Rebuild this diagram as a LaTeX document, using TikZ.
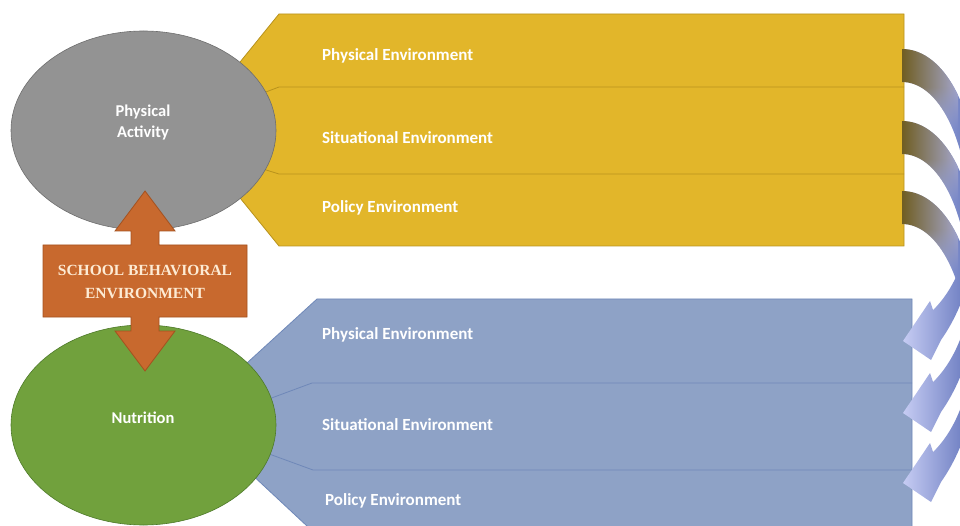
\documentclass[tikz,border=0pt]{standalone}
\usepackage{fontspec}
\setmainfont{Carlito}
\newfontfamily\serifb{Liberation Serif}
\usetikzlibrary{fadings,shapes.geometric}
\definecolor{yel}{HTML}{E2B62A}
\definecolor{yelb}{HTML}{B8921C}
\definecolor{blu}{HTML}{8EA2C6}
\definecolor{blub}{HTML}{6F88B8}
\definecolor{gry}{HTML}{939393}
\definecolor{gryb}{HTML}{6E6E6E}
\definecolor{grn}{HTML}{71A13D}
\definecolor{grnb}{HTML}{4E7A2A}
\definecolor{org}{HTML}{C8692E}
\definecolor{orgb}{HTML}{A4511F}
\definecolor{cream}{HTML}{FDEBD4}
\definecolor{arlight}{HTML}{CDD2F7}
\definecolor{ardark}{HTML}{7282C4}
\definecolor{arolive}{HTML}{6E5B1C}
\definecolor{armid}{HTML}{A3A6CC}
\tikzfading[name=fadedown, top color=transparent!0, bottom color=transparent!100, middle color=transparent!0]
\tikzset{
  envlabel/.style={anchor=west, text=white, font=\fontsize{17}{20}\selectfont\bfseries, inner sep=0pt},
  circlabel/.style={text=white, font=\fontsize{16.5}{21}\selectfont\bfseries, align=center, inner sep=0pt},
  divline/.style={line width=0.8pt},
}
\newcommand\curvarrowpath[1]{(902,#1) .. controls (940,#1) and (972,#1+50) .. (978,#1+130) .. controls (983,#1+190) and (970,#1+250) .. (941,#1+291) -- (931,#1+311) -- (903,#1+292) -- (930,#1+252) -- (933,#1+261) .. controls (950,#1+245) and (970,#1+210) .. (970,#1+165) .. controls (965,#1+80) and (935,#1+33) .. (902,#1+33) -- cycle}
\begin{document}
\begin{tikzpicture}[x=1pt,y=-1pt]
\useasboundingbox (0,0) rectangle (960,526);
\clip (0,0) rectangle (960,526);
% yellow block
\path[fill=yel, draw=yelb, line width=0.8pt] (279,14) -- (904,14) -- (904,246) -- (279,246) -- (185,130) -- cycle;
\draw[yelb, divline] (250,98) -- (279,87) -- (904,87);
\draw[yelb, divline] (250,165) -- (279,174) -- (904,174);
% blue block
\path[fill=blu, draw=blub, line width=0.8pt] (317,299) -- (912,299) -- (912,540) -- (322,540) -- (189,416) -- cycle;
\draw[blub, divline] (250,406) -- (312,383) -- (912,383);
\draw[blub, divline] (250,447) -- (313,470) -- (912,470);
% ellipses
\node[draw=gryb, fill=gry, ellipse, minimum width=265pt, minimum height=199pt, inner sep=0pt, line width=0.6pt] (pa) at (143.5,130.5) {};
\node[draw=grnb, fill=grn, ellipse, minimum width=265pt, minimum height=200pt, inner sep=0pt, line width=0.6pt] (nu) at (143.5,425) {};
\node[circlabel] (palab) at (143,123) {Physical\\Activity};
\node[circlabel] (nulab) at (143,417.5) {Nutrition};
% orange double arrow
\path[fill=org, draw=orgb, line width=0.8pt] (145,191) -- (175,231) -- (159,231) -- (159,245) -- (247,245) -- (247,317) -- (159,317) -- (159,331) -- (175,331) -- (145,371) -- (115,331) -- (131,331) -- (131,317) -- (43,317) -- (43,245) -- (131,245) -- (131,231) -- (115,231) -- cycle;
\node[text=cream, font=\serifb\fontsize{15.5}{23}\selectfont\bfseries, align=center, inner sep=0pt] (sbe) at (145,281.5) {SCHOOL BEHAVIORAL\\ENVIRONMENT};
% labels
\node[envlabel] (y1) at (322,56) {Physical Environment};
\node[envlabel] (y2) at (322,138) {Situational Environment};
\node[envlabel] (y3) at (322,208) {Policy Environment};
\node[envlabel] (b1) at (322,335) {Physical Environment};
\node[envlabel] (b2) at (322,425) {Situational Environment};
\node[envlabel] (b3) at (325,501) {Policy Environment};
% curved arrows
\foreach \s in {49, 121, 191} {
  \begin{scope}
    \clip \curvarrowpath{\s};
    \shade[left color=arlight, right color=ardark] (898,\s-5) rectangle (962,\s+320);
    \shade[left color=arolive, right color=armid, path fading=fadedown] (900,\s-5) rectangle (958,\s+80);
  \end{scope}
}
\end{tikzpicture}
\end{document}
